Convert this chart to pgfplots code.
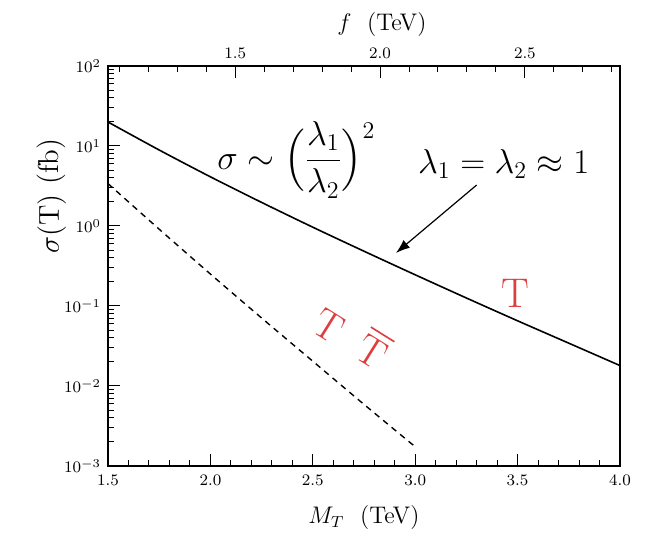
\documentclass[border=0pt]{standalone}
\usepackage{pgfplots}
\pgfplotsset{compat=1.18}
\usepackage{amsmath}
\usetikzlibrary{arrows.meta}
\definecolor{lblred}{RGB}{222,62,62}

\begin{document}
\begin{tikzpicture}
% fixed page size around the 256pt x 200pt frame
\path[use as bounding box] (-54pt,-34.5pt) rectangle (270.5pt,233pt);

\begin{axis}[
  at={(0,0)}, anchor=south west,
  width=256pt, height=200pt, scale only axis,
  xmin=1.5, xmax=4.0,
  ymode=log, ymin=1e-3, ymax=1e2,
  xtick={1.5,2.0,2.5,3.0,3.5,4.0},
  xticklabels={1.5,2.0,2.5,3.0,3.5,4.0},
  minor xtick={1.6,1.7,1.8,1.9,2.1,2.2,2.3,2.4,2.6,2.7,2.8,2.9,3.1,3.2,3.3,3.4,3.6,3.7,3.8,3.9},
  ytick={1e-3,1e-2,1e-1,1,10,100},
  xtick pos=bottom, ytick pos=left,
  tick align=inside,
  major tick length=6pt, minor tick length=3pt,
  every tick/.style={black, line width=0.5pt},
  axis line style={line width=0.8pt},
  tick label style={font=\footnotesize},
  xticklabel style={yshift=-1pt},
  xlabel={$M_{T}$ \ (TeV)},
  xlabel style={at={(axis description cs:0.5,-0.13)}, anchor=center, font=\large},
  ylabel={$\sigma(\mathrm{T})$ (fb)},
  ylabel style={at={(axis description cs:-0.11,0.675)}, anchor=center, font=\Large},
  clip=false,
]
% single production, lambda_1 = lambda_2 = 1
\addplot[black, line width=0.8pt, smooth] coordinates {
  (1.50,19.95) (1.75,8.91) (2.00,4.12) (2.25,1.972) (2.50,0.966)
  (2.75,0.484) (3.00,0.2455) (3.25,0.1259) (3.50,0.0653)
  (3.75,0.0343) (4.00,0.0180)
};
% pair production
\addplot[black, line width=0.7pt, dash pattern=on 3pt off 2.5pt, smooth] coordinates {
  (1.50,3.39) (1.75,0.912) (2.00,0.251) (2.25,0.0708) (2.50,0.0204)
  (2.75,0.00589) (3.00,0.00174)
};

\node[anchor=west, font=\LARGE] at (axis cs:2.0,6.7)
  {$\sigma \sim \Bigl(\dfrac{\lambda_1}{\lambda_2}\Bigr)^{2}$};
\node[anchor=west, font=\LARGE] at (axis cs:2.98,6.0)
  {$\lambda_1 = \lambda_2 \approx 1$};
\draw[-{Latex[length=7pt,width=5pt]}, line width=0.6pt]
  (axis cs:3.30,3.25) -- (axis cs:2.906,0.46);
\node[text=lblred, font=\huge] at (axis cs:3.49,0.145) {T};
\node[text=lblred, font=\huge, rotate=-32, inner sep=0pt] at (axis cs:2.58,0.056) {T};
\node[text=lblred, font=\huge, rotate=-32, inner sep=0pt] at (axis cs:2.80,0.030) {$\overline{\mathrm{T}}$};
\end{axis}

% scale of f on the top edge, f = M_T / sqrt(2)
\begin{axis}[
  at={(0,0)}, anchor=south west,
  width=256pt, height=200pt, scale only axis,
  xmin=1.5, xmax=4.0, ymin=0, ymax=1,
  axis x line*=top, axis y line=none,
  xtick={2.12132,2.82843,3.53553},
  xticklabels={1.5,2.0,2.5},
  minor xtick={1.55563,1.69706,1.83848,1.97990,2.26274,2.40416,2.54558,2.68701,
               2.96985,3.11127,3.25269,3.39411,3.67696,3.81838,3.95980},
  tick align=inside,
  major tick length=6pt, minor tick length=3pt,
  every tick/.style={black, line width=0.5pt},
  axis line style={line width=0.8pt, -},
  tick label style={font=\footnotesize},
  xlabel={$f$ \ (TeV)},
  xlabel style={at={(axis description cs:0.535,1.1025)}, anchor=center, font=\large},
]
\addplot[draw=none] coordinates {(1.5,0)};
\end{axis}
\end{tikzpicture}
\end{document}
